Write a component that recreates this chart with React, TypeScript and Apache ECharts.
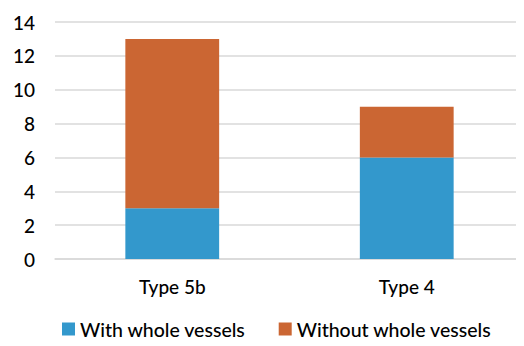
import React, { useEffect, useRef } from "react";
import * as echarts from "echarts";

const categories = ["Type 5b", "Type 4"];
const withVessels = [3, 6];
const withoutVessels = [10, 3];
const seriesNames = ["With whole vessels", "Without whole vessels"];
const colors = ["#3398cc", "#cb6633"];

export default function App() {
  const ref = useRef<HTMLDivElement>(null);

  useEffect(() => {
    if (!ref.current) return;
    const chart = echarts.init(ref.current, null, { renderer: "svg" });
    const font = "Lato, 'Open Sans', sans-serif";
    chart.setOption({
      animation: false,
      backgroundColor: "#ffffff",
      grid: { left: 55, right: -4, top: 22, bottom: 87 },
      legend: {
        bottom: 2,
        left: 57,
        itemWidth: 13,
        itemHeight: 13,
        itemGap: 33,
        icon: "rect",
        textStyle: { fontFamily: font, fontSize: 19.5, color: "#000", fontWeight: 500 },
        data: seriesNames,
      },
      xAxis: {
        type: "category",
        data: categories,
        axisLine: { show: true, lineStyle: { color: "#d9d9d9", width: 1.5 } },
        axisTick: { show: false },
        axisLabel: { fontFamily: font, fontSize: 19, color: "#000", fontWeight: 500, margin: 18 },
      },
      yAxis: {
        type: "value",
        min: 0,
        max: 14,
        interval: 2,
        axisLine: { show: false },
        axisTick: { show: false },
        axisLabel: { fontFamily: font, fontSize: 19, color: "#000", fontWeight: 500, margin: 20 },
        splitLine: { lineStyle: { color: "#d9d9d9", width: 1.5 } },
      },
      series: [
        {
          name: seriesNames[0],
          type: "bar",
          stack: "total",
          data: withVessels,
          barWidth: "40%",
          itemStyle: { color: colors[0] },
        },
        {
          name: seriesNames[1],
          type: "bar",
          stack: "total",
          data: withoutVessels,
          barWidth: "40%",
          itemStyle: { color: colors[1] },
        },
      ],
    });
    return () => chart.dispose();
  }, []);

  return <div ref={ref} style={{ width: 524, height: 346, margin: -8 }} />;
}
